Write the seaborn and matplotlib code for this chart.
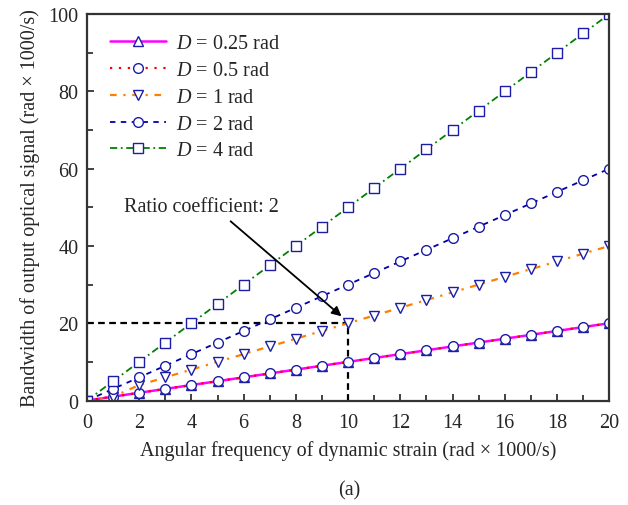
import numpy as np
import matplotlib
matplotlib.use("Agg")
import matplotlib.pyplot as plt
import seaborn as sns
from matplotlib.ticker import MultipleLocator

# angular frequency of dynamic strain (rad x 1000/s)
freq = list(range(0, 21))

# bandwidth of output optical signal (rad x 1000/s)
bw_d025 = [0, 1, 2, 3, 4, 5, 6, 7, 8, 9, 10, 11, 12, 13, 14, 15, 16, 17, 18, 19, 20]
bw_d05 = [0, 1, 2, 3, 4, 5, 6, 7, 8, 9, 10, 11, 12, 13, 14, 15, 16, 17, 18, 19, 20]
bw_d1 = [0, 1, 4, 6, 8, 10, 12, 14, 16, 18, 20, 22, 24, 26, 28, 30, 32, 34, 36, 38, 40]
bw_d2 = [0, 3, 6, 9, 12, 15, 18, 21, 24, 27, 30, 33, 36, 39, 42, 45, 48, 51, 54, 57, 60]
bw_d4 = [0, 5, 10, 15, 20, 25, 30, 35, 40, 45, 50, 55, 60, 65, 70, 75, 80, 85, 90, 95, 100]

labels = ["$D$ = 0.25 rad", "$D$ = 0.5 rad", "$D$ = 1 rad", "$D$ = 2 rad", "$D$ = 4 rad"]

sns.set_style("ticks")
plt.rcParams["font.family"] = ["Liberation Serif", "DejaVu Serif"]
plt.rcParams["mathtext.fontset"] = "custom"
plt.rcParams["mathtext.it"] = "Liberation Serif:italic"
plt.rcParams["mathtext.rm"] = "Liberation Serif"

FS = 14.5

fig = plt.figure(figsize=(6.28, 5.06), dpi=100)
ax = fig.add_axes([0.1385, 0.2065, 0.8315, 0.7635])

mk_col = "#1c1ca6"
series = [
    (bw_d025, "#ff00ff", "-", "^", 1.8),
    (bw_d05, "#ff0000", (0, (1, 3)), "o", 1.6),
    (bw_d1, "#ff8000", (0, (3, 3, 1, 3)), "v", 1.6),
    (bw_d2, "#0000aa", (0, (3, 3)), "o", 1.3),
    (bw_d4, "#008000", (0, (4, 2, 1, 2)), "s", 1.3),
]

for (vals, col, ls, mk, lw), lab in zip(series, labels):
    sns.lineplot(x=freq, y=vals, ax=ax, color=col, linestyle=ls, linewidth=lw,
                 marker=mk, markersize=7, markerfacecolor="white",
                 markeredgecolor=mk_col, markeredgewidth=1.0, label=lab)

# reference lines at ratio coefficient 2
ax.plot([0, 10], [20, 20], color="black", linestyle=(0, (3, 2)), linewidth=1.6, zorder=1)
ax.plot([10, 10], [0, 20], color="black", linestyle=(0, (3, 2)), linewidth=1.6, zorder=1)

ax.text(1.42, 49.0, "Ratio coefficient: 2", fontsize=FS, ha="left", va="baseline")
ax.annotate("", xy=(9.75, 21.8), xytext=(5.5, 46.4),
            arrowprops=dict(arrowstyle="-|>", color="black", lw=1.3,
                            shrinkA=0, shrinkB=0, mutation_scale=14))

ax.set_xlim(0, 20)
ax.set_ylim(0, 100)
ax.xaxis.set_major_locator(MultipleLocator(2))
ax.xaxis.set_minor_locator(MultipleLocator(1))
ax.yaxis.set_major_locator(MultipleLocator(20))
ax.yaxis.set_minor_locator(MultipleLocator(10))
ax.tick_params(which="both", direction="in", top=False, right=False,
               labelsize=FS, width=1.2, color="#222222")
ax.tick_params(which="major", length=5, pad=6)
ax.tick_params(axis="x", which="major", pad=9)
ax.tick_params(which="minor", length=4)
for sp in ax.spines.values():
    sp.set_linewidth(1.6)
    sp.set_color("#333333")

ax.set_xlabel("Angular frequency of dynamic strain (rad \u00d7 1000/s)", fontsize=FS, labelpad=6)
ax.set_ylabel("Bandwidth of output optical signal (rad \u00d7 1000/s)", fontsize=FS, labelpad=6)

ax.legend(loc="upper left", frameon=False, fontsize=FS, handlelength=2.8,
          handletextpad=0.5, labelspacing=0.38, borderaxespad=0.6,
          bbox_to_anchor=(0.005, 1.0))

fig.text(0.556, 0.03, "(a)", ha="center", va="center", fontsize=FS)

fig.savefig("out.png", dpi=100)
